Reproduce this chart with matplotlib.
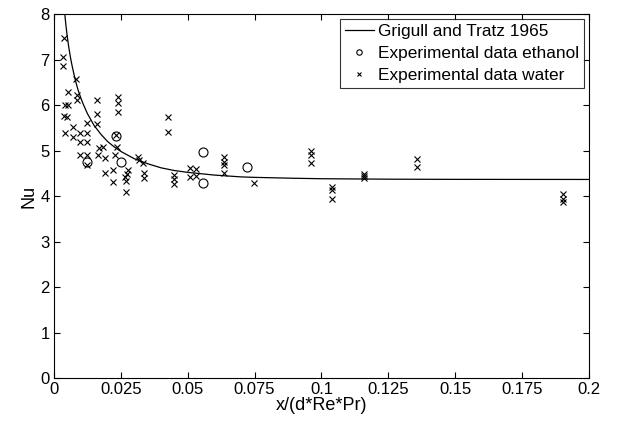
import matplotlib
matplotlib.use("Agg")
import matplotlib.pyplot as plt

plt.rcParams['font.family'] = ['Liberation Sans', 'DejaVu Sans']

# Grigull and Tratz 1965 correlation
curve_x = [0.0037, 0.0045, 0.005, 0.0055, 0.006, 0.0065, 0.007, 0.008, 0.009, 0.01,
           0.011, 0.0125, 0.015, 0.0175, 0.02, 0.0225, 0.025, 0.03, 0.035, 0.04,
           0.045, 0.05, 0.06, 0.07, 0.075, 0.09, 0.1, 0.125, 0.15, 0.2]
curve_nu = [8.20, 7.73, 7.49, 7.28, 7.10, 6.94, 6.80, 6.54, 6.33, 6.16,
            6.01, 5.81, 5.55, 5.36, 5.20, 5.08, 4.98, 4.82, 4.71, 4.62,
            4.56, 4.52, 4.46, 4.42, 4.41, 4.39, 4.38, 4.37, 4.366, 4.364]

# Experimental data ethanol
eth_x = [0.0122, 0.0232, 0.0250, 0.0556, 0.0556, 0.0720]
eth_nu = [4.74, 5.33, 4.75, 4.96, 4.28, 4.64]

# Experimental data water
wat_x = [0.0037, 0.0035, 0.0035, 0.0082, 0.0053, 0.0085, 0.0085, 0.0041, 0.0051,
         0.0039, 0.0050, 0.0041, 0.0072, 0.0072, 0.0097, 0.0122, 0.0097, 0.0122,
         0.0122, 0.0162, 0.0162, 0.0162, 0.0169, 0.0184, 0.0097, 0.0122, 0.0122,
         0.0166, 0.0191, 0.0238, 0.0238, 0.0238, 0.0231, 0.0234, 0.0228, 0.0191,
         0.0219, 0.0219, 0.0278, 0.0274, 0.0265, 0.0271, 0.0269, 0.0314, 0.0319,
         0.0334, 0.0338, 0.0338, 0.0427, 0.0427, 0.0449, 0.0449, 0.0449, 0.0508,
         0.0508, 0.0531, 0.0531, 0.0637, 0.0637, 0.0637, 0.0637, 0.0748, 0.0961,
         0.0961, 0.0961, 0.1038, 0.1038, 0.1038, 0.1159, 0.1159, 0.1159, 0.1356,
         0.1356, 0.1902, 0.1902, 0.1902]
wat_nu = [7.48, 7.05, 6.85, 6.57, 6.28, 6.23, 6.10, 6.01, 6.01,
          5.76, 5.74, 5.39, 5.52, 5.29, 5.39, 5.39, 5.19, 5.19,
          5.60, 6.10, 5.80, 5.58, 5.05, 5.08, 4.90, 4.90, 4.69,
          4.90, 4.84, 6.18, 6.04, 5.85, 5.34, 5.08, 4.90, 4.51,
          4.57, 4.31, 4.57, 4.48, 4.41, 4.33, 4.08, 4.86, 4.79,
          4.73, 4.50, 4.39, 5.73, 5.40, 4.46, 4.37, 4.26, 4.61,
          4.42, 4.59, 4.44, 4.85, 4.75, 4.68, 4.50, 4.28, 5.00,
          4.90, 4.72, 4.20, 4.13, 3.93, 4.48, 4.43, 4.39, 4.81,
          4.64, 4.04, 3.93, 3.87]

x_ticks = [0, 0.025, 0.05, 0.075, 0.1, 0.125, 0.15, 0.175, 0.2]
x_tick_labels = ['0', '0.025', '0.05', '0.075', '0.1', '0.125', '0.15', '0.175', '0.2']
y_ticks = [0, 1, 2, 3, 4, 5, 6, 7, 8]

fig = plt.figure(figsize=(6.17, 4.21), dpi=100)
ax = fig.add_axes([0.0875, 0.1021, 0.8671, 0.8646])

ax.plot(curve_x, curve_nu, color='black', lw=0.9, label='Grigull and Tratz 1965')
ax.plot(eth_x, eth_nu, linestyle='none', marker='o', mfc='none', mec='black',
        ms=6.5, mew=0.8, label='Experimental data ethanol')
ax.plot(wat_x, wat_nu, linestyle='none', marker='x', color='black',
        ms=4, mew=0.8, label='Experimental data water')

ax.set_xlim(0, 0.2)
ax.set_ylim(0, 8)
ax.set_xticks(x_ticks)
ax.set_xticklabels(x_tick_labels)
ax.set_yticks(y_ticks)
ax.tick_params(direction='in', top=True, right=True, labelsize=12, length=4, width=0.8, pad=3)
for s in ax.spines.values():
    s.set_linewidth(0.8)
ax.set_xlabel('x/(d*Re*Pr)', fontsize=13, labelpad=0)
ax.set_ylabel('Nu', fontsize=13, labelpad=2)

leg = ax.legend(loc='upper right', fontsize=12.4, frameon=True, fancybox=False,
                edgecolor='black', borderpad=0.3, labelspacing=0.38,
                handlelength=1.7, handletextpad=0.2, borderaxespad=0.3,
                markerscale=0.6)
leg.get_frame().set_linewidth(0.8)

fig.savefig('out.png', dpi=100)
